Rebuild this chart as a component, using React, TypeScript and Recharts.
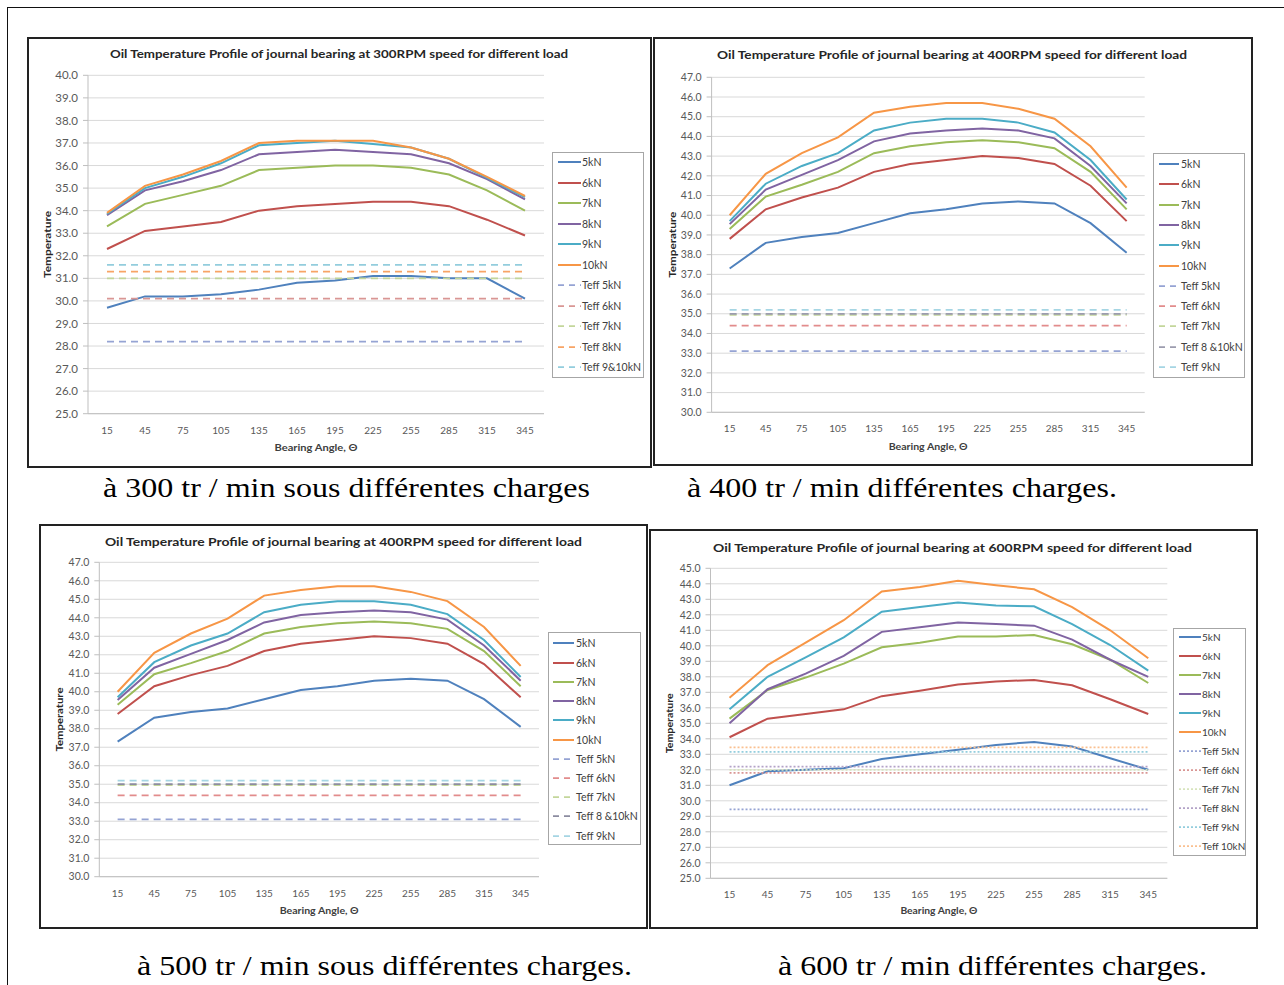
import React from 'react';
import { LineChart, Line, XAxis, YAxis, CartesianGrid, Label } from 'recharts';

// ---------- shared categories / labels ----------
const ANGLES = ['15', '45', '75', '105', '135', '165', '195', '225', '255', '285', '315', '345'];
const LOAD_LABELS = ['5kN', '6kN', '7kN', '8kN', '9kN', '10kN'];

// ---------- 300 RPM ----------
const R300_5KN = [29.7, 30.2, 30.2, 30.3, 30.5, 30.8, 30.9, 31.1, 31.1, 31.0, 31.0, 30.1];
const R300_6KN = [32.3, 33.1, 33.3, 33.5, 34.0, 34.2, 34.3, 34.4, 34.4, 34.2, 33.6, 32.9];
const R300_7KN = [33.3, 34.3, 34.7, 35.1, 35.8, 35.9, 36.0, 36.0, 35.9, 35.6, 34.9, 34.0];
const R300_8KN = [33.8, 34.9, 35.3, 35.8, 36.5, 36.6, 36.7, 36.6, 36.5, 36.1, 35.4, 34.5];
const R300_9KN = [33.85, 35.0, 35.5, 36.1, 36.9, 37.0, 37.1, 36.95, 36.8, 36.3, 35.45, 34.6];
const R300_10KN = [33.9, 35.1, 35.6, 36.2, 37.0, 37.1, 37.1, 37.1, 36.8, 36.3, 35.5, 34.65];
const R300_TEFF = [28.2, 30.1, 31.0, 31.3, 31.6];
const R300_TEFF_LABELS = ['Teff 5kN', 'Teff 6kN', 'Teff 7kN', 'Teff 8kN', 'Teff 9&10kN'];
const Y_TICKS_300 = [25, 26, 27, 28, 29, 30, 31, 32, 33, 34, 35, 36, 37, 38, 39, 40];

// ---------- 400 RPM (also shown for 500 RPM) ----------
const R400_5KN = [37.3, 38.6, 38.9, 39.1, 39.6, 40.1, 40.3, 40.6, 40.7, 40.6, 39.6, 38.1];
const R400_6KN = [38.8, 40.3, 40.9, 41.4, 42.2, 42.6, 42.8, 43.0, 42.9, 42.6, 41.5, 39.7];
const R400_7KN = [39.3, 40.95, 41.55, 42.2, 43.15, 43.5, 43.7, 43.8, 43.7, 43.4, 42.2, 40.3];
const R400_8KN = [39.55, 41.3, 42.05, 42.8, 43.75, 44.15, 44.3, 44.4, 44.3, 43.9, 42.5, 40.6];
const R400_9KN = [39.7, 41.6, 42.5, 43.15, 44.3, 44.7, 44.9, 44.9, 44.7, 44.2, 42.8, 40.8];
const R400_10KN = [40.0, 42.1, 43.15, 43.95, 45.2, 45.5, 45.7, 45.7, 45.4, 44.9, 43.5, 41.4];
const R400_TEFF = [33.1, 34.4, 34.95, 35.0, 35.2];
const R400_TEFF_LABELS = ['Teff 5kN', 'Teff 6kN', 'Teff 7kN', 'Teff 8 &10kN', 'Teff 9kN'];
const Y_TICKS_400 = [30, 31, 32, 33, 34, 35, 36, 37, 38, 39, 40, 41, 42, 43, 44, 45, 46, 47];

// ---------- 600 RPM ----------
const R600_5KN = [31.0, 31.9, 32.0, 32.1, 32.7, 33.0, 33.3, 33.6, 33.8, 33.5, 32.75, 32.0];
const R600_6KN = [34.1, 35.3, 35.6, 35.9, 36.75, 37.1, 37.5, 37.7, 37.8, 37.45, 36.55, 35.6];
const R600_7KN = [35.3, 37.15, 37.95, 38.85, 39.9, 40.2, 40.6, 40.6, 40.7, 40.1, 39.1, 37.6];
const R600_8KN = [35.0, 37.2, 38.2, 39.35, 40.9, 41.2, 41.5, 41.4, 41.3, 40.4, 39.1, 38.0];
const R600_9KN = [35.9, 38.0, 39.25, 40.55, 42.2, 42.5, 42.8, 42.6, 42.55, 41.4, 40.05, 38.4];
const R600_10KN = [36.65, 38.75, 40.2, 41.65, 43.5, 43.8, 44.2, 43.9, 43.65, 42.5, 41.0, 39.2];
const R600_TEFF = [29.45, 31.8, 32.0, 32.2, 33.15, 33.45];
const R600_TEFF_LABELS = ['Teff 5kN', 'Teff 6kN', 'Teff 7kN', 'Teff 8kN', 'Teff 9kN', 'Teff 10kN'];
const Y_TICKS_600 = [25, 26, 27, 28, 29, 30, 31, 32, 33, 34, 35, 36, 37, 38, 39, 40, 41, 42, 43, 44, 45];

// ---------- styling ----------
const LOAD_COLORS = ['#4F81BD', '#C0504D', '#9BBB59', '#8064A2', '#4BACC6', '#F79646'];
const FONT = "Lato, 'Open Sans', sans-serif";
const SERIF = "'Times New Roman', 'Liberation Serif', Tinos, serif";

type Box = { x: number; y: number; w: number; h: number };
type PanelCfg = {
  frame: Box;
  plot: { l: number; t: number; r: number; b: number };
  ticks: number[];
  loads: number[][];
  teff: number[];
  teffLabels: string[];
  teffColors: string[];
  dash: string;
  legendDash: string;
  title: string;
  titleSpan: [number, number];
  titleBase: number;
  yLabelX: number;
  yLabelLen: number;
  xLabelBase: number;
  xLabelLen: number;
  xTickFont: number;
  yTickFont: number;
  xTickMargin: number;
  legend: Box & { firstY: number; step: number; s0: number; s1: number; tx: number; font: number };
  caption: string;
  capSpan: [number, number];
  capBase: number;
};

const PANELS: PanelCfg[] = [
  {
    frame: { x: 27, y: 37, w: 625, h: 431 },
    plot: { l: 88, t: 75.3, r: 544, b: 413.7 },
    ticks: Y_TICKS_300,
    loads: [R300_5KN, R300_6KN, R300_7KN, R300_8KN, R300_9KN, R300_10KN],
    teff: R300_TEFF,
    teffLabels: R300_TEFF_LABELS,
    teffColors: ['#95A3D3', '#D99694', '#C3D69B', '#F8A465', '#93CDDD'],
    dash: '7 5',
    legendDash: '6 5',
    title: 'Oil Temperature Profile of journal bearing at 300RPM speed for different load',
    titleSpan: [110, 568],
    titleBase: 58,
    yLabelX: 47,
    yLabelLen: 67,
    xLabelBase: 451,
    xLabelLen: 83,
    xTickFont: 10,
    yTickFont: 11.5,
    xTickMargin: 7,
    legend: { x: 552, y: 152, w: 92, h: 226, firstY: 162, step: 20.5, s0: 5, s1: 28, tx: 29, font: 10.5 },
    caption: 'à 300 tr / min sous différentes charges',
    capSpan: [103, 590],
    capBase: 497,
  },
  {
    frame: { x: 653, y: 37, w: 600, h: 429 },
    plot: { l: 711.6, t: 77.3, r: 1144.7, b: 412.3 },
    ticks: Y_TICKS_400,
    loads: [R400_5KN, R400_6KN, R400_7KN, R400_8KN, R400_9KN, R400_10KN],
    teff: R400_TEFF,
    teffLabels: R400_TEFF_LABELS,
    teffColors: ['#95A3D3', '#E28C8C', '#C3D69B', '#9C9CAE', '#A5D5E3'],
    dash: '7 5',
    legendDash: '6 5',
    title: 'Oil Temperature Profile of journal bearing at 400RPM speed for different load',
    titleSpan: [717, 1187],
    titleBase: 59,
    yLabelX: 672,
    yLabelLen: 66,
    xLabelBase: 450,
    xLabelLen: 79,
    xTickFont: 10,
    yTickFont: 10.5,
    xTickMargin: 7,
    legend: { x: 1153, y: 153, w: 92, h: 225, firstY: 164, step: 20.3, s0: 5, s1: 25, tx: 27, font: 10.5 },
    caption: 'à 400 tr / min différentes charges.',
    capSpan: [687, 1117],
    capBase: 497,
  },
  {
    frame: { x: 39, y: 524, w: 609, h: 405 },
    plot: { l: 99.3, t: 562.3, r: 539, b: 876.7 },
    ticks: Y_TICKS_400,
    loads: [R400_5KN, R400_6KN, R400_7KN, R400_8KN, R400_9KN, R400_10KN],
    teff: R400_TEFF,
    teffLabels: R400_TEFF_LABELS,
    teffColors: ['#95A3D3', '#E28C8C', '#C3D69B', '#8C8CA0', '#A5D5E3'],
    dash: '7 5',
    legendDash: '6 5',
    title: 'Oil Temperature Profile of journal bearing at 400RPM speed for different load',
    titleSpan: [105, 582],
    titleBase: 546,
    yLabelX: 59,
    yLabelLen: 64,
    xLabelBase: 914,
    xLabelLen: 79,
    xTickFont: 10,
    yTickFont: 10.5,
    xTickMargin: 7,
    legend: { x: 548, y: 632, w: 93, h: 213, firstY: 643.3, step: 19.24, s0: 4, s1: 25, tx: 27, font: 10.5 },
    caption: 'à 500 tr / min sous différentes charges.',
    capSpan: [137, 632],
    capBase: 975,
  },
  {
    frame: { x: 649, y: 529, w: 609, h: 400 },
    plot: { l: 710.5, t: 568.3, r: 1167.3, b: 878.3 },
    ticks: Y_TICKS_600,
    loads: [R600_5KN, R600_6KN, R600_7KN, R600_8KN, R600_9KN, R600_10KN],
    teff: R600_TEFF,
    teffLabels: R600_TEFF_LABELS,
    teffColors: ['#95A3D3', '#D99694', '#D7E4BD', '#B3A2C7', '#93CDDD', '#FAC090'],
    dash: '2 2',
    legendDash: '2 2',
    title: 'Oil Temperature Profile of journal bearing at 600RPM speed for different load',
    titleSpan: [713, 1192],
    titleBase: 552,
    yLabelX: 669,
    yLabelLen: 60,
    xLabelBase: 914,
    xLabelLen: 77,
    xTickFont: 10,
    yTickFont: 10.5,
    xTickMargin: 7,
    legend: { x: 1173, y: 628, w: 73, h: 228, firstY: 637.3, step: 18.95, s0: 5, s1: 27, tx: 28, font: 10 },
    caption: 'à 600 tr / min différentes charges.',
    capSpan: [778, 1207],
    capBase: 975,
  },
];

function Panel({ p }: { p: PanelCfg }) {
  const { frame, plot } = p;
  const data = ANGLES.map((a, i) => {
    const row: Record<string, number | string> = { angle: a };
    p.loads.forEach((s, j) => (row['L' + j] = s[i]));
    p.teff.forEach((t, j) => (row['T' + j] = t));
    return row;
  });
  const margin = { top: plot.t - frame.y, right: frame.x + frame.w - plot.r, bottom: 0, left: 0 };
  const yW = plot.l - frame.x;
  const xH = frame.y + frame.h - plot.b;
  const midY = (plot.t + plot.b) / 2 - frame.y;
  const midX = (plot.l + plot.r) / 2 - frame.x;
  const halfBand = (plot.r - plot.l) / ANGLES.length / 2;
  const lg = p.legend;
  const legendItems = [
    ...LOAD_LABELS.map((n, i) => ({ name: n, color: LOAD_COLORS[i], dash: undefined as string | undefined })),
    ...p.teffLabels.map((n, i) => ({ name: n, color: p.teffColors[i], dash: p.legendDash })),
  ];
  return (
    <>
      <div style={{ position: 'absolute', left: frame.x, top: frame.y, width: frame.w, height: frame.h }}>
        <LineChart width={frame.w} height={frame.h} data={data} margin={margin}>
          <CartesianGrid horizontal vertical={false} stroke="#D9D9D9" strokeWidth={1} />
          <XAxis
            dataKey="angle"
            height={xH}
            interval={0}
            padding={{ left: halfBand, right: halfBand }}
            axisLine={{ stroke: '#BFBFBF' }}
            tickLine={false}
            tickSize={6}
            tickMargin={p.xTickMargin}
            tick={{ fill: '#595959', fontSize: p.xTickFont, fontFamily: FONT }}
          >
            <Label
              content={() => (
                <text
                  x={midX}
                  y={p.xLabelBase - frame.y}
                  textAnchor="middle"
                  textLength={p.xLabelLen}
                  lengthAdjust="spacingAndGlyphs"
                  style={{ fontFamily: FONT, fontSize: 10, fontWeight: 700, fill: '#404040' }}
                >
                  Bearing Angle, Θ
                </text>
              )}
            />
          </XAxis>
          <YAxis
            type="number"
            domain={[p.ticks[0], p.ticks[p.ticks.length - 1]]}
            ticks={p.ticks}
            interval={0}
            width={yW}
            allowDataOverflow
            axisLine={{ stroke: '#BFBFBF' }}
            tickLine={{ stroke: '#BFBFBF' }}
            tickSize={5}
            tickMargin={5}
            tickFormatter={(v: number) => v.toFixed(1)}
            tick={{ fill: '#595959', fontSize: p.yTickFont, fontFamily: FONT }}
          >
            <Label
              content={() => (
                <text
                  transform={`translate(${p.yLabelX - frame.x}, ${midY}) rotate(-90)`}
                  textAnchor="middle"
                  dominantBaseline="central"
                  textLength={p.yLabelLen}
                  lengthAdjust="spacingAndGlyphs"
                  style={{ fontFamily: FONT, fontSize: 10, fontWeight: 700, fill: '#262626' }}
                >
                  Temperature
                </text>
              )}
            />
          </YAxis>
          {LOAD_LABELS.map((n, j) => (
            <Line
              key={'L' + j}
              type="linear"
              dataKey={'L' + j}
              name={n}
              stroke={LOAD_COLORS[j]}
              strokeWidth={2}
              dot={false}
              activeDot={false}
              isAnimationActive={false}
            />
          ))}
          {p.teffLabels.map((n, j) => (
            <Line
              key={'T' + j}
              type="linear"
              dataKey={'T' + j}
              name={n}
              stroke={p.teffColors[j]}
              strokeWidth={1.75}
              strokeDasharray={p.dash}
              dot={false}
              activeDot={false}
              isAnimationActive={false}
            />
          ))}
        </LineChart>
      </div>
      <div
        style={{
          position: 'absolute',
          left: frame.x,
          top: frame.y,
          width: frame.w,
          height: frame.h,
          boxSizing: 'border-box',
          border: '2px solid #222',
          pointerEvents: 'none',
        }}
      />
      <div
        style={{
          position: 'absolute',
          left: lg.x,
          top: lg.y,
          width: lg.w,
          height: lg.h,
          boxSizing: 'border-box',
          border: '1px solid #A6A6A6',
          background: '#fff',
        }}
      >
        {legendItems.map((it, i) => {
          const cy = lg.firstY + i * lg.step - lg.y - 1;
          return (
            <div key={i} style={{ position: 'absolute', left: 0, top: cy - 8, height: 16, width: lg.w - 2 }}>
              <svg width={lg.s1 + 2} height={16} style={{ position: 'absolute', left: 0, top: 0 }}>
                <line
                  x1={lg.s0}
                  x2={lg.s1}
                  y1={8}
                  y2={8}
                  stroke={it.color}
                  strokeWidth={it.dash ? 1.75 : 2}
                  strokeDasharray={it.dash}
                />
              </svg>
              <span
                style={{
                  position: 'absolute',
                  left: lg.tx,
                  top: 0,
                  lineHeight: '16px',
                  fontFamily: FONT,
                  fontSize: lg.font,
                  color: '#404040',
                  whiteSpace: 'nowrap',
                }}
              >
                {it.name}
              </span>
            </div>
          );
        })}
      </div>
    </>
  );
}

export default function App() {
  return (
    <div
      style={{
        position: 'fixed',
        left: 0,
        top: 0,
        width: 1284,
        height: 985,
        overflow: 'hidden',
        background: '#fff',
      }}
    >
      <div
        style={{
          position: 'absolute',
          left: 7,
          top: 7,
          width: 1320,
          height: 1020,
          border: '1px solid #111',
        }}
      />
      {PANELS.map((p, i) => (
        <Panel key={i} p={p} />
      ))}
      <svg
        width={1284}
        height={985}
        style={{ position: 'absolute', left: 0, top: 0, pointerEvents: 'none' }}
      >
        {PANELS.map((p, i) => (
          <g key={i}>
            <text
              x={p.titleSpan[0]}
              y={p.titleBase}
              textLength={p.titleSpan[1] - p.titleSpan[0]}
              lengthAdjust="spacingAndGlyphs"
              style={{ fontFamily: FONT, fontSize: 12, fontWeight: 700, fill: '#262626' }}
            >
              {p.title}
            </text>
            <text
              x={p.capSpan[0]}
              y={p.capBase}
              textLength={p.capSpan[1] - p.capSpan[0]}
              lengthAdjust="spacingAndGlyphs"
              style={{ fontFamily: SERIF, fontSize: 28, fill: '#000' }}
            >
              {p.caption}
            </text>
          </g>
        ))}
      </svg>
    </div>
  );
}
